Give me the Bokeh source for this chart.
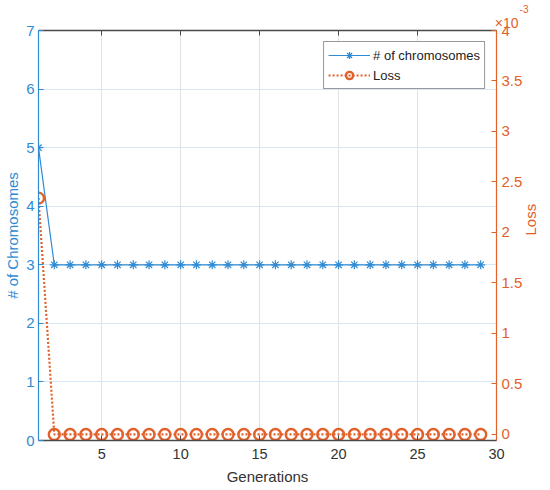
import math
from bokeh.plotting import figure
from bokeh.models import (Range1d, LinearAxis, FixedTicker, CustomJSTickFormatter,
                          Title, Legend)
from bokeh.embed import file_html
from bokeh.resources import INLINE

# ---- data ----
generations = [1, 2, 3, 4, 5, 6, 7, 8, 9, 10, 11, 12, 13, 14, 15,
               16, 17, 18, 19, 20, 21, 22, 23, 24, 25, 26, 27, 28, 29]
chromosomes = [5, 3, 3, 3, 3, 3, 3, 3, 3, 3, 3, 3, 3, 3, 3,
               3, 3, 3, 3, 3, 3, 3, 3, 3, 3, 3, 3, 3, 3]
loss_x1e3 = [2.34, 0, 0, 0, 0, 0, 0, 0, 0, 0, 0, 0, 0, 0, 0,
             0, 0, 0, 0, 0, 0, 0, 0, 0, 0, 0, 0, 0, 0]
x_ticks = [5, 10, 15, 20, 25, 30]
left_ticks = [0, 1, 2, 3, 4, 5, 6, 7]
right_ticks = [0, 0.5, 1, 1.5, 2, 2.5, 3, 3.5, 4]

BLUE = "#2F8BD3"
ORANGE = "#E2612B"
DARK = "#4a4a4a"
TEXT = "#333333"
FONT = "Liberation Sans"

p = figure(width=550, height=490, x_range=Range1d(1, 30), y_range=Range1d(0, 7),
           output_backend="svg", toolbar_location=None,
           min_border_left=38, min_border_right=50, min_border_top=30,
           min_border_bottom=50, background_fill_color="white",
           border_fill_color="white")
p.outline_line_color = None
p.extra_y_ranges = {"loss": Range1d(-0.06, 4)}

# bottom axis
xa = p.xaxis[0]
xa.ticker = FixedTicker(ticks=x_ticks)
xa.axis_label = "Generations"
xa.axis_label_text_font = FONT
xa.axis_label_text_font_style = "normal"
xa.axis_label_text_font_size = "15px"
xa.axis_label_text_color = TEXT
xa.axis_label_standoff = 6
xa.major_label_text_font = FONT
xa.major_label_text_font_size = "14.5px"
xa.major_label_text_color = TEXT
xa.major_label_standoff = 8
xa.axis_line_color = DARK
xa.axis_line_width = 1.5
xa.major_tick_line_color = DARK
xa.major_tick_in = 5
xa.major_tick_out = 0
xa.minor_tick_line_color = None

# left axis
ya = p.yaxis[0]
ya.ticker = FixedTicker(ticks=left_ticks)
ya.axis_label = "# of Chromosomes"
ya.axis_label_text_font = FONT
ya.axis_label_text_font_style = "normal"
ya.axis_label_text_font_size = "15px"
ya.axis_label_text_color = BLUE
ya.axis_label_standoff = 2
ya.major_label_text_font = FONT
ya.major_label_text_font_size = "15px"
ya.major_label_text_color = BLUE
ya.major_label_standoff = 4
ya.axis_line_color = BLUE
ya.axis_line_width = 1.2
ya.major_tick_line_color = BLUE
ya.major_tick_in = 5
ya.major_tick_out = 0
ya.minor_tick_line_color = None

# top axis (box)
ta = LinearAxis(ticker=FixedTicker(ticks=x_ticks), major_label_text_font_size="0px",
                major_label_text_color=None, axis_line_color=DARK, axis_line_width=1.5,
                major_tick_line_color=DARK, major_tick_in=5, major_tick_out=0,
                minor_tick_line_color=None, major_label_standoff=0)
p.add_layout(ta, "above")

# right axis
ra = LinearAxis(y_range_name="loss", ticker=FixedTicker(ticks=right_ticks),
                formatter=CustomJSTickFormatter(code="return tick.toString();"),
                axis_label="Loss", axis_label_text_font=FONT,
                axis_label_text_font_style="normal", axis_label_text_font_size="15px",
                axis_label_text_color=ORANGE, axis_label_standoff=5,
                axis_label_orientation=math.pi / 2,
                major_label_text_font=FONT, major_label_text_font_size="15px",
                major_label_text_color=ORANGE, major_label_standoff=5,
                axis_line_color=ORANGE, axis_line_width=1.2,
                major_tick_line_color=ORANGE, major_tick_in=5, major_tick_out=0,
                minor_tick_line_color=None)
p.add_layout(ra, "right")

# exponent (x10^-3) above the right axis
p.add_layout(Title(text="×10", align="right", offset=-22, standoff=0,
                   text_font=FONT, text_font_size="14px", text_font_style="normal",
                   text_color=ORANGE), "above")
p.add_layout(Title(text="-3", align="right", offset=-32, standoff=0,
                   text_font=FONT, text_font_size="10px", text_font_style="normal",
                   text_color=ORANGE), "above")

# grids
p.xgrid[0].ticker = FixedTicker(ticks=x_ticks)
p.xgrid[0].grid_line_color = "#e2e2e2"
p.ygrid[0].ticker = FixedTicker(ticks=left_ticks)
p.ygrid[0].grid_line_color = "#d6e8f7"

# series
l1 = p.line(generations, chromosomes, line_color=BLUE, line_width=1.2)
s1 = p.scatter(generations, chromosomes, marker="asterisk", size=9,
               line_color=BLUE, line_width=1.2)
l2 = p.line(generations, loss_x1e3, y_range_name="loss", line_color=ORANGE,
            line_width=2.2, line_dash="2 2")
s2 = p.scatter(generations, loss_x1e3, y_range_name="loss", marker="circle", size=11,
               line_color=ORANGE, line_width=2.4, fill_color=None)

legend = Legend(items=[("# of chromosomes", [l1, s1]), ("Loss", [l2, s2])],
                location="top_right", margin=11, padding=4, spacing=2,
                glyph_width=42, glyph_height=18, label_height=18, label_standoff=3,
                label_text_font=FONT, label_text_font_size="13px",
                label_text_color="#222222", border_line_color="#333333",
                border_line_width=1, background_fill_color="white",
                background_fill_alpha=1)
p.add_layout(legend, "center")

open("out.html", "w").write(file_html(p, INLINE))
